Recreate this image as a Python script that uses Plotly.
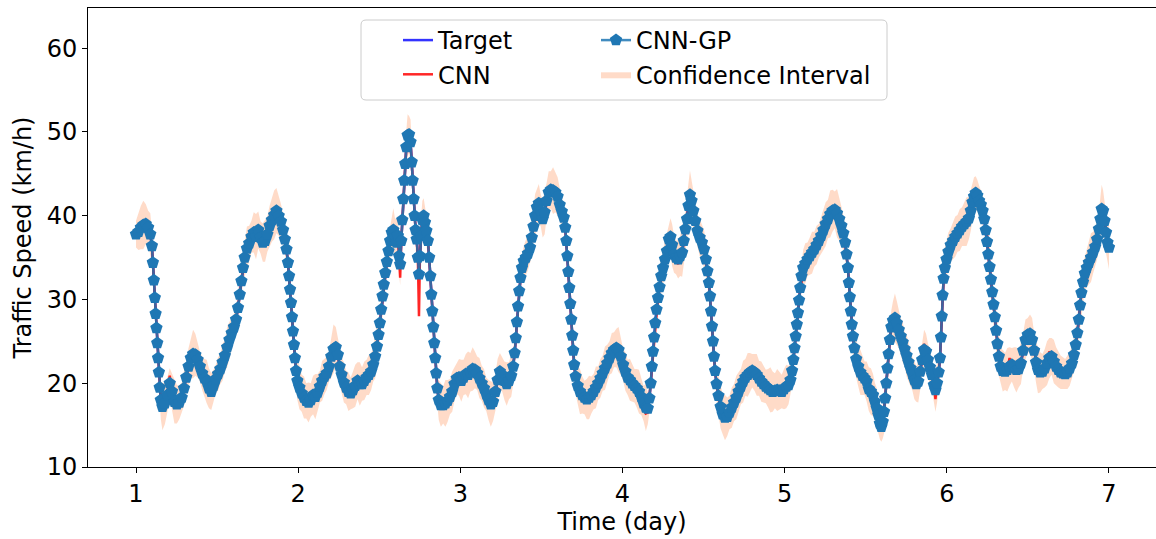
import plotly.graph_objects as go

# ---- data ----
time_day = [
    1.000, 1.015, 1.030, 1.045, 1.060, 1.075, 1.088, 1.098, 1.104, 1.110,
    1.116, 1.121, 1.126, 1.131, 1.136, 1.141, 1.146, 1.153, 1.163, 1.178,
    1.193, 1.208, 1.222, 1.237, 1.252, 1.267, 1.282, 1.296, 1.310, 1.324,
    1.338, 1.352, 1.366, 1.380, 1.394, 1.408, 1.422, 1.436, 1.450, 1.464,
    1.478, 1.492, 1.506, 1.520, 1.534, 1.548, 1.562, 1.576, 1.590, 1.604,
    1.617, 1.629, 1.640, 1.650, 1.660, 1.670, 1.684, 1.698, 1.712, 1.726,
    1.740, 1.754, 1.768, 1.782, 1.796, 1.810, 1.824, 1.838, 1.852, 1.866,
    1.880, 1.894, 1.907, 1.918, 1.928, 1.937, 1.944, 1.950, 1.956, 1.962,
    1.968, 1.974, 1.980, 1.987, 1.995, 2.008, 2.022, 2.036, 2.050, 2.064,
    2.078, 2.092, 2.106, 2.120, 2.134, 2.148, 2.162, 2.176, 2.190, 2.204,
    2.218, 2.232, 2.245, 2.256, 2.268, 2.282, 2.296, 2.310, 2.324, 2.338,
    2.352, 2.366, 2.380, 2.394, 2.408, 2.422, 2.436, 2.450, 2.463, 2.475,
    2.486, 2.496, 2.504, 2.512, 2.520, 2.528, 2.537, 2.547, 2.557, 2.567,
    2.577, 2.587, 2.597, 2.607, 2.615, 2.622, 2.629, 2.636, 2.642, 2.648,
    2.654, 2.660, 2.667, 2.675, 2.684, 2.693, 2.700, 2.706, 2.712, 2.718,
    2.724, 2.731, 2.738, 2.745, 2.751, 2.758, 2.766, 2.774, 2.782, 2.791,
    2.800, 2.808, 2.815, 2.821, 2.827, 2.833, 2.839, 2.845, 2.851, 2.858,
    2.867, 2.880, 2.894, 2.908, 2.922, 2.936, 2.950, 2.964, 2.978, 2.992,
    3.006, 3.020, 3.034, 3.048, 3.062, 3.076, 3.090, 3.104, 3.118, 3.132,
    3.146, 3.160, 3.174, 3.188, 3.202, 3.216, 3.230, 3.244, 3.258, 3.272,
    3.286, 3.300, 3.314, 3.326, 3.335, 3.342, 3.349, 3.356, 3.363, 3.371,
    3.380, 3.391, 3.404, 3.417, 3.430, 3.441, 3.451, 3.461, 3.472, 3.484,
    3.496, 3.508, 3.520, 3.532, 3.545, 3.558, 3.572, 3.586, 3.600, 3.613,
    3.626, 3.638, 3.647, 3.654, 3.660, 3.666, 3.672, 3.678, 3.684, 3.690,
    3.696, 3.702, 3.711, 3.724, 3.738, 3.752, 3.766, 3.780, 3.794, 3.808,
    3.822, 3.836, 3.850, 3.864, 3.878, 3.892, 3.906, 3.920, 3.934, 3.948,
    3.962, 3.976, 3.990, 4.004, 4.018, 4.032, 4.046, 4.060, 4.074, 4.088,
    4.102, 4.116, 4.130, 4.144, 4.156, 4.166, 4.174, 4.181, 4.188, 4.195,
    4.202, 4.210, 4.219, 4.229, 4.239, 4.250, 4.262, 4.274, 4.286, 4.296,
    4.306, 4.318, 4.330, 4.343, 4.356, 4.368, 4.378, 4.388, 4.398, 4.407,
    4.416, 4.426, 4.437, 4.449, 4.462, 4.476, 4.490, 4.503, 4.514, 4.524,
    4.533, 4.540, 4.546, 4.552, 4.558, 4.564, 4.571, 4.580, 4.592, 4.605,
    4.618, 4.632, 4.646, 4.660, 4.674, 4.688, 4.702, 4.716, 4.730, 4.744,
    4.758, 4.772, 4.786, 4.800, 4.814, 4.828, 4.842, 4.856, 4.870, 4.884,
    4.898, 4.912, 4.926, 4.940, 4.954, 4.968, 4.982, 4.996, 5.010, 5.024,
    5.036, 5.046, 5.054, 5.061, 5.068, 5.075, 5.082, 5.089, 5.096, 5.104,
    5.114, 5.127, 5.141, 5.155, 5.169, 5.183, 5.197, 5.211, 5.225, 5.239,
    5.253, 5.267, 5.281, 5.295, 5.309, 5.323, 5.337, 5.350, 5.362, 5.373,
    5.382, 5.390, 5.396, 5.402, 5.408, 5.414, 5.421, 5.430, 5.441, 5.454,
    5.467, 5.480, 5.493, 5.506, 5.519, 5.532, 5.545, 5.557, 5.568, 5.578,
    5.587, 5.596, 5.605, 5.613, 5.620, 5.627, 5.634, 5.641, 5.649, 5.658,
    5.668, 5.680, 5.692, 5.704, 5.716, 5.728, 5.740, 5.752, 5.764, 5.776,
    5.788, 5.800, 5.812, 5.824, 5.836, 5.848, 5.860, 5.872, 5.884, 5.896,
    5.908, 5.920, 5.930, 5.940, 5.950, 5.958, 5.964, 5.969, 5.974, 5.980,
    5.988, 5.998, 6.010, 6.024, 6.038, 6.052, 6.066, 6.080, 6.094, 6.108,
    6.122, 6.136, 6.148, 6.158, 6.168, 6.178, 6.188, 6.199, 6.210, 6.221,
    6.231, 6.240, 6.248, 6.256, 6.264, 6.272, 6.280, 6.288, 6.296, 6.304,
    6.312, 6.321, 6.332, 6.345, 6.359, 6.373, 6.387, 6.401, 6.415, 6.429,
    6.443, 6.457, 6.471, 6.485, 6.499, 6.513, 6.526, 6.538, 6.550, 6.562,
    6.576, 6.590, 6.604, 6.618, 6.632, 6.646, 6.660, 6.674, 6.688, 6.702,
    6.716, 6.730, 6.744, 6.758, 6.772, 6.784, 6.795, 6.805, 6.814, 6.822,
    6.830, 6.840, 6.851, 6.863, 6.876, 6.889, 6.902, 6.915, 6.927, 6.938,
    6.947, 6.955, 6.964, 6.973, 6.982, 6.991, 7.000,
]

target_speed = [
    37.8, 38.1, 38.6, 38.9, 39.0, 38.6, 37.8, 36.4, 34.4, 32.3,
    30.2, 28.3, 26.6, 24.8, 23.0, 21.3, 19.5, 18.0, 17.2, 17.6,
    18.6, 20.0, 19.0, 17.8, 17.5, 17.7, 18.3, 19.4, 20.7, 22.0,
    23.0, 23.5, 23.4, 22.8, 22.0, 21.2, 20.6, 20.2, 19.4, 19.0,
    19.7, 20.5, 21.1, 21.7, 22.5, 23.3, 24.3, 25.2, 26.0, 26.7,
    27.6, 29.0, 30.6, 32.2, 33.8, 35.0, 36.1, 36.7, 37.5, 38.0,
    37.5, 38.3, 37.4, 36.8, 37.0, 37.8, 38.8, 39.5, 40.1, 40.6,
    40.0, 39.3, 38.3, 37.2, 36.0, 34.4, 32.8, 31.2, 29.6, 27.9,
    26.2, 24.6, 23.0, 21.5, 20.3, 19.5, 18.8, 18.3, 17.9, 17.7,
    18.0, 18.6, 18.4, 18.9, 19.6, 20.3, 20.8, 21.2, 22.0, 23.2,
    24.1, 24.3, 23.4, 22.0, 21.0, 20.1, 19.5, 19.0, 18.8, 19.2,
    19.7, 20.3, 19.9, 19.9, 20.3, 20.7, 21.0, 21.4, 22.2, 23.2,
    24.4, 25.8, 27.2, 28.8, 30.4, 31.8, 33.2, 34.5, 35.8, 37.0,
    38.0, 38.3, 37.5, 36.8, 37.6, 35.2, 34.2, 37.0, 39.5, 42.0,
    44.2, 46.2, 48.2, 49.6, 49.7, 48.8, 46.4, 44.2, 42.0, 40.0,
    38.3, 37.2, 35.0, 33.0, 35.2, 37.6, 39.5, 40.0, 39.2, 38.2,
    37.0, 35.0, 32.8, 30.6, 28.6, 26.7, 24.8, 23.0, 21.2, 19.4,
    18.0, 17.4, 17.4, 17.6, 17.9, 18.4, 19.0, 19.9, 20.6, 20.7,
    20.3, 20.7, 21.1, 21.0, 21.3, 21.7, 21.6, 21.2, 20.6, 20.0,
    19.4, 18.7, 18.0, 17.5, 17.8, 19.0, 20.4, 21.4, 21.0, 20.3,
    19.9, 20.3, 20.9, 22.0, 23.6, 25.4, 27.3, 29.2, 31.0, 32.6,
    33.8, 34.6, 35.0, 35.5, 36.2, 37.4, 38.7, 40.0, 41.0, 41.5,
    40.6, 39.6, 40.4, 41.8, 42.8, 43.1, 43.0, 42.8, 42.3, 41.3,
    40.5, 39.8, 38.6, 37.0, 35.2, 33.3, 31.4, 29.5, 27.6, 25.7,
    23.9, 22.2, 20.8, 19.7, 19.0, 18.6, 18.3, 18.1, 18.3, 18.6,
    19.0, 19.5, 20.0, 20.6, 21.2, 21.8, 22.4, 23.0, 23.6, 24.0,
    24.2, 24.0, 23.2, 22.2, 21.4, 20.7, 20.4, 20.0, 19.7, 19.4,
    19.0, 18.4, 17.6, 17.1, 17.0, 18.2, 20.0, 22.0, 23.8, 25.5,
    27.2, 28.8, 30.2, 31.5, 32.8, 33.8, 34.8, 35.8, 37.2, 37.5,
    36.5, 35.4, 35.0, 34.8, 35.2, 35.6, 37.0, 38.4, 39.6, 41.2,
    42.5, 41.8, 40.6, 39.4, 38.2, 37.4, 36.8, 36.0, 34.8, 33.4,
    32.0, 30.4, 28.6, 26.8, 25.0, 23.2, 21.5, 19.9, 18.5, 17.2,
    16.3, 15.9, 16.0, 16.5, 17.1, 17.7, 18.3, 19.0, 19.6, 20.2,
    20.7, 21.0, 21.3, 21.5, 21.3, 21.0, 20.6, 20.2, 19.9, 19.6,
    19.4, 19.2, 19.0, 19.1, 19.2, 19.1, 19.0, 19.3, 19.6, 19.8,
    20.4, 21.5, 22.8, 24.2, 25.6, 27.0, 28.4, 29.9, 31.4, 32.8,
    33.8, 34.3, 34.8, 35.2, 35.6, 36.0, 36.5, 37.0, 37.6, 38.3,
    39.0, 39.6, 40.2, 40.6, 40.7, 40.3, 39.6, 38.8, 37.9, 36.8,
    35.4, 33.8, 32.0, 30.3, 28.6, 27.0, 25.6, 24.2, 22.9, 22.0,
    21.3, 20.9, 20.6, 20.2, 19.3, 19.0, 18.6, 17.8, 17.0, 16.2,
    15.2, 14.8, 15.4, 16.6, 18.2, 20.0, 21.8, 23.5, 25.2, 26.7,
    27.5, 27.8, 27.2, 26.4, 25.6, 24.9, 24.1, 23.3, 22.5, 21.8,
    21.1, 20.4, 19.9, 20.2, 21.4, 22.8, 24.0, 23.8, 22.8, 21.9,
    21.0, 19.8, 19.2, 20.0, 21.3, 23.0, 25.5, 28.0, 30.5, 32.5,
    33.8, 34.8, 35.7, 36.5, 37.0, 37.5, 37.9, 38.3, 38.7, 39.0,
    39.3, 39.7, 40.6, 41.6, 42.3, 42.7, 42.4, 41.8, 41.3, 40.6,
    39.6, 38.3, 36.9, 35.4, 33.9, 32.4, 30.9, 29.4, 27.9, 26.3,
    24.7, 23.2, 22.0, 21.5, 21.4, 21.6, 22.0, 22.2, 21.9, 21.6,
    21.7, 22.4, 23.9, 25.2, 25.8, 25.9, 25.2, 23.9, 22.5, 21.6,
    21.3, 21.4, 21.8, 22.4, 23.0, 23.2, 22.6, 22.0, 21.6, 21.3,
    21.2, 21.1, 21.3, 21.8, 22.4, 23.4, 24.6, 26.0, 27.6, 29.3,
    30.8, 32.1, 33.1, 33.8, 34.4, 35.0, 35.6, 36.3, 37.2, 38.4,
    39.6, 40.8, 40.6, 39.4, 38.0, 36.8, 36.2,
]

# CNN prediction: same as the target except at the points where red shows
cnn_differs = {
    1.208: 20.9, 1.590: 26.6, 2.629: 32.6, 2.745: 28.0, 3.962: 24.6,
    4.144: 16.4, 4.156: 16.5, 4.343: 34.2, 5.104: 32.0, 5.596: 14.2,
    5.680: 28.3, 5.860: 24.7, 5.930: 18.1, 6.248: 37.8, 6.387: 23.0,
    6.632: 23.8, 6.851: 31.8, 6.863: 32.6,
}

# CNN-GP mean (markers sit on the target everywhere)
cnn_gp_speed = list(target_speed)

# half width of the confidence band around the CNN-GP mean
ci_half_width = [
    1.6, 2.2, 2.6, 2.9, 2.4, 2.0, 2.5, 1.9, 1.7, 1.8,
    1.6, 1.9, 1.7, 1.8, 1.6, 1.7, 1.9, 2.3, 2.8, 2.5,
    2.1, 1.8, 2.2, 2.6, 2.3, 2.0, 1.8, 2.1, 1.9, 2.2,
    2.4, 2.9, 2.5, 2.1, 1.8, 2.0, 2.3, 2.6, 2.4, 2.2,
    1.9, 1.7, 2.0, 1.8, 2.2, 1.9, 2.4, 2.1, 1.8, 1.6,
    1.7, 2.0, 1.8, 1.6, 1.9, 2.2, 2.6, 2.1, 1.9, 2.4,
    2.7, 2.2, 1.9, 2.3, 2.5, 2.1, 2.4, 2.6, 2.9, 2.7,
    2.4, 2.1, 1.9, 1.8, 1.6, 1.7, 1.8, 1.6, 1.7, 1.6,
    1.7, 1.6, 1.8, 2.0, 2.3, 2.6, 2.2, 2.5, 2.1, 2.4,
    2.0, 2.3, 2.7, 2.2, 1.9, 2.4, 2.1, 2.0, 1.8, 2.5,
    2.9, 2.4, 2.0, 2.2, 2.1, 2.4, 2.0, 2.3, 1.9, 2.2,
    2.5, 2.2, 2.6, 2.0, 2.3, 2.1, 2.4, 2.2, 2.0, 2.6,
    2.3, 2.0, 1.8, 1.7, 1.9, 1.8, 1.7, 1.9, 1.8, 1.7,
    2.0, 2.6, 2.2, 2.8, 2.4, 2.0, 2.5, 2.1, 2.2, 2.6,
    2.9, 2.6, 2.8, 2.5, 2.2, 2.7, 2.4, 2.9, 2.5, 2.1,
    2.3, 2.6, 2.2, 2.4, 2.9, 2.6, 2.3, 2.1, 1.9, 1.8,
    1.8, 1.7, 1.9, 1.8, 1.7, 1.6, 1.8, 1.9, 1.7, 1.9,
    2.4, 2.6, 2.2, 2.8, 2.5, 2.1, 2.4, 2.0, 1.9, 2.2,
    2.5, 2.1, 2.4, 2.8, 2.3, 2.6, 2.2, 2.0, 2.4, 2.1,
    2.3, 2.0, 2.4, 2.7, 2.3, 2.1, 2.5, 2.2, 2.0, 2.3,
    2.6, 2.2, 2.5, 2.1, 1.8, 1.9, 1.7, 1.8, 1.6, 1.7,
    1.6, 1.8, 2.1, 2.0, 1.8, 2.3, 2.0, 2.6, 2.1, 2.3,
    1.9, 2.2, 2.6, 2.1, 2.5, 2.2, 2.8, 2.4, 2.3, 2.0,
    1.7, 1.6, 1.8, 1.7, 1.6, 1.8, 1.7, 1.6, 1.8, 1.9,
    2.0, 2.4, 2.1, 2.3, 2.7, 2.2, 2.0, 2.4, 2.6, 2.2,
    2.1, 2.5, 2.0, 2.3, 2.1, 2.6, 2.2, 2.0, 2.4, 2.1,
    2.3, 2.7, 2.2, 1.9, 2.3, 2.1, 2.5, 2.2, 2.0, 2.3,
    2.6, 2.2, 2.1, 2.8, 1.9, 1.7, 1.8, 1.6, 1.7, 1.8,
    1.9, 2.1, 1.8, 2.0, 2.2, 1.9, 2.4, 2.1, 1.8, 2.2,
    2.5, 2.2, 2.0, 2.3, 2.4, 2.9, 2.6, 2.2, 2.4, 2.7,
    2.9, 2.5, 2.2, 2.0, 1.9, 2.2, 2.0, 2.3, 2.1, 1.9,
    1.8, 1.7, 1.8, 1.6, 1.7, 1.8, 1.9, 2.0, 2.3, 2.6,
    2.4, 2.7, 2.3, 2.0, 2.4, 2.2, 2.6, 2.3, 2.1, 2.5,
    2.2, 2.6, 2.3, 2.0, 2.2, 2.5, 2.1, 2.4, 2.2, 2.0,
    2.3, 2.7, 2.4, 2.1, 2.5, 2.2, 2.0, 2.4, 2.6, 2.3,
    1.8, 1.7, 1.6, 1.8, 1.7, 1.6, 1.8, 1.7, 1.9, 2.0,
    2.1, 2.4, 2.0, 2.2, 2.5, 2.1, 2.3, 2.0, 2.2, 2.4,
    2.6, 2.3, 2.8, 2.5, 2.2, 2.9, 2.6, 2.3, 2.1, 2.0,
    1.9, 1.8, 1.7, 1.8, 1.9, 2.1, 2.3, 2.0, 2.2, 2.4,
    2.7, 2.3, 2.0, 2.4, 2.6, 2.8, 2.5, 2.2, 2.4, 2.1,
    1.9, 1.8, 2.0, 2.6, 2.2, 2.4, 2.0, 1.9, 2.2, 2.0,
    2.3, 2.9, 2.6, 2.2, 2.1, 2.4, 2.0, 2.5, 2.3, 2.1,
    2.0, 2.3, 2.1, 2.5, 2.2, 2.0, 2.4, 2.1, 1.9, 2.2,
    1.8, 2.0, 2.6, 2.3, 1.9, 2.1, 1.8, 1.7, 1.9, 2.2,
    2.4, 2.1, 2.3, 2.0, 2.2, 2.4, 2.2, 2.5, 2.3, 2.6,
    2.9, 2.5, 2.4, 2.1, 2.3, 2.0, 1.9, 1.8, 1.7, 1.8,
    1.9, 1.8, 2.4, 2.2, 2.6, 2.3, 2.0, 2.4, 2.1, 2.5,
    2.8, 2.3, 2.1, 2.5, 2.2, 2.6, 2.3, 2.0, 2.4, 2.7,
    2.2, 2.5, 2.1, 2.4, 2.0, 2.3, 2.6, 2.2, 2.4, 2.8,
    2.4, 2.1, 2.3, 2.6, 2.4, 2.2, 2.6, 2.3, 2.1, 2.0,
    1.9, 1.8, 2.0, 2.1, 1.9, 2.0, 2.3, 2.1, 2.4, 2.2,
    2.5, 2.2, 2.0, 2.3, 2.6, 2.9, 2.5, 2.2, 2.4, 2.1,
    2.6, 2.9, 2.4, 2.2, 2.5, 2.1, 2.6,
]

x_ticks = [1, 2, 3, 4, 5, 6, 7]
y_ticks = [10, 20, 30, 40, 50, 60]

# ---- derived series ----
cnn_speed = [cnn_differs.get(t, v) for t, v in zip(time_day, target_speed)]
ci_lower = [m - h for m, h in zip(cnn_gp_speed, ci_half_width)]
ci_upper = [m + h for m, h in zip(cnn_gp_speed, ci_half_width)]

FONT = "DejaVu Sans"
W, H = 1156, 539
ML, MR, MT, MB = 88, 0, 8, 72
PW, PH = W - ML - MR, H - MT - MB


def px_x(p):
    return (p - ML) / PW


def px_y(p):
    return 1 - (p - MT) / PH


fig = go.Figure()

fig.add_trace(go.Scatter(
    x=time_day, y=ci_lower, mode="lines", line=dict(width=0, color="rgba(0,0,0,0)"),
    showlegend=False, hoverinfo="skip"))
fig.add_trace(go.Scatter(
    x=time_day, y=ci_upper, mode="lines", line=dict(width=0, color="rgba(0,0,0,0)"),
    fill="tonexty", fillcolor="rgba(255,160,110,0.38)",
    name="Confidence Interval", legend="legend2", legendrank=2))
fig.add_trace(go.Scatter(
    x=time_day, y=target_speed, mode="lines", name="Target",
    line=dict(color="rgba(0,0,255,0.8)", width=2.5), legend="legend", legendrank=1))
fig.add_trace(go.Scatter(
    x=time_day, y=cnn_speed, mode="lines", name="CNN",
    line=dict(color="rgba(255,0,0,0.85)", width=2.5), legend="legend", legendrank=2))
fig.add_trace(go.Scatter(
    x=time_day, y=cnn_gp_speed, mode="lines+markers", name="CNN-GP",
    line=dict(color="rgba(31,119,180,0.85)", width=2.5),
    marker=dict(symbol="pentagon", size=13, color="#1f77b4", line=dict(width=0)),
    legend="legend2", legendrank=1))

legend_common = dict(
    font=dict(family=FONT, size=24, color="#000"),
    bgcolor="rgba(0,0,0,0)", borderwidth=0,
    xanchor="left", yanchor="top", tracegroupgap=7,
    traceorder="normal",
)

# rounded legend frame
x0, x1 = px_x(361), px_x(887)
y0, y1 = px_y(100), px_y(20)
rx, ry = 5 / PW, 5 / PH
frame_path = (
    f"M {x0+rx},{y0} L {x1-rx},{y0} Q {x1},{y0} {x1},{y0+ry} "
    f"L {x1},{y1-ry} Q {x1},{y1} {x1-rx},{y1} L {x0+rx},{y1} "
    f"Q {x0},{y1} {x0},{y1-ry} L {x0},{y0+ry} Q {x0},{y0} {x0+rx},{y0} Z"
)

fig.update_layout(
    width=W, height=H,
    margin=dict(l=ML, r=MR, t=MT, b=MB),
    paper_bgcolor="white", plot_bgcolor="white",
    font=dict(family=FONT, size=24, color="#000"),
    legend=dict(x=px_x(398), y=px_y(18), **legend_common),
    legend2=dict(x=px_x(596), y=px_y(18), **legend_common),
    shapes=[dict(type="path", path=frame_path, xref="paper", yref="paper",
                 line=dict(color="#cccccc", width=1),
                 fillcolor="rgba(255,255,255,0.8)", layer="above")],
    xaxis=dict(
        range=[0.704, 7.29], tickvals=x_ticks, ticktext=[str(v) for v in x_ticks],
        showgrid=False, zeroline=False, showline=True, linecolor="#000", linewidth=1,
        mirror=True, ticks="outside", ticklen=5, tickwidth=1, tickcolor="#000",
        tickfont=dict(family=FONT, size=24, color="#000"),
        title=dict(text="Time (day)", font=dict(family=FONT, size=24, color="#000"), standoff=6),
    ),
    yaxis=dict(
        range=[10, 64.8], tickvals=y_ticks, ticktext=[str(v) for v in y_ticks],
        showgrid=False, zeroline=False, showline=True, linecolor="#000", linewidth=1,
        mirror=False, ticks="outside", ticklen=5, tickwidth=1, tickcolor="#000",
        tickfont=dict(family=FONT, size=24, color="#000"),
        title=dict(text="Traffic Speed (km/h)", font=dict(family=FONT, size=24, color="#000"), standoff=8),
    ),
)

fig.write_html("out.html")
